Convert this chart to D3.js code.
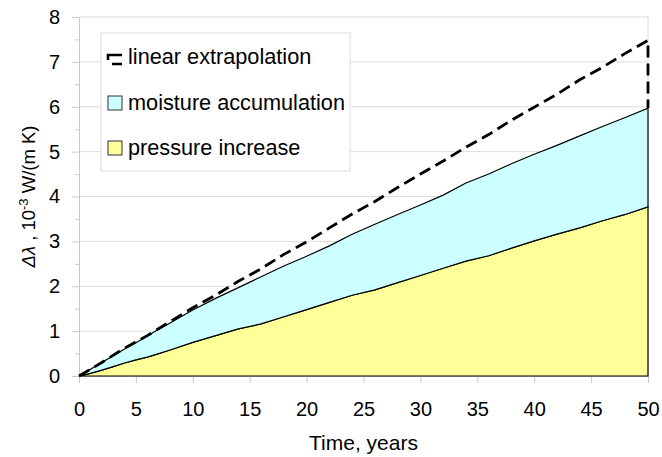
<html>
<script src='https://d3js.org/d3.v7.min.js'></script>
<style>
  body {margin: 0; background: #fff;}
  text {font-family: "Liberation Sans", Arial, sans-serif; fill: #000;}
</style>
<body>
<svg class="chart" width=662 height=457></svg>
<script>
// years
var years = [0,1,2,3,4,5,6,7,8,10,12,14,16,18,20,22,24,26,28,30,32,34,36,38,40,42,44,46,48,50];
// pressure increase (bottom band)
var pressure = [0,0.06,0.13,0.21,0.29,0.36,0.42,0.50,0.58,0.75,0.90,1.05,1.16,1.32,1.48,1.64,1.80,1.92,2.08,2.24,2.40,2.56,2.68,2.85,3.01,3.16,3.30,3.46,3.60,3.77];
// pressure + moisture accumulation (top of cyan band)
var total = [0,0.15,0.30,0.45,0.60,0.74,0.89,1.04,1.18,1.47,1.73,1.97,2.21,2.45,2.67,2.90,3.16,3.38,3.60,3.81,4.03,4.30,4.50,4.73,4.94,5.14,5.35,5.56,5.76,5.97];
// linear extrapolation (dashed), drops back to the total at year 50
var extrapYears = [0,2,4,6,8,10,12,14,16,18,20,22,24,26,28,30,32,34,36,38,40,42,44,46,48,50,50];
var extrap = [0,0.30,0.62,0.90,1.21,1.52,1.80,2.11,2.39,2.71,2.99,3.30,3.61,3.89,4.20,4.50,4.79,5.10,5.38,5.70,5.99,6.28,6.60,6.88,7.19,7.48,5.97];

var xTicks = [0,5,10,15,20,25,30,35,40,45,50];
var yTicks = [0,1,2,3,4,5,6,7,8];
var legendLabels = ["linear extrapolation", "moisture accumulation", "pressure increase"];

var margin = {top: 17, right: 14, bottom: 81, left: 79},
    width = 662 - margin.left - margin.right,
    height = 457 - margin.top - margin.bottom;

var svg = d3.select(".chart");
var g = svg.append("g").attr("transform", "translate(" + margin.left + "," + margin.top + ")");

var x = d3.scaleLinear().domain([0,50]).range([0,width]);
var y = d3.scaleLinear().domain([0,8]).range([height,0]);

// horizontal gridlines
g.append("g").selectAll("line").data(yTicks.slice(1)).enter()
  .append("line")
    .attr("x1", 0).attr("x2", width)
    .attr("y1", function(d){ return y(d); }).attr("y2", function(d){ return y(d); })
    .attr("stroke", "#dcdcdc").attr("stroke-width", 1);

// right border
g.append("line")
  .attr("x1", width).attr("x2", width).attr("y1", 0).attr("y2", height)
  .attr("stroke", "#dcdcdc");

// minor y ticks
g.append("g")
  .call(d3.axisLeft(y).tickValues(d3.range(0.5, 8, 1)).tickSize(4).tickFormat(""))
  .call(function(a){ a.select(".domain").remove(); a.selectAll("line").attr("stroke", "#c8c8c8"); });

// y axis
g.append("g")
  .call(d3.axisLeft(y).tickValues(yTicks).tickSize(7).tickPadding(12).tickSizeOuter(0).tickFormat(d3.format("d")))
  .call(function(a){
    a.select(".domain").attr("stroke", "#c8c8c8");
    a.selectAll("line").attr("stroke", "#c8c8c8");
    a.selectAll("text").attr("font-size", 20).attr("font-family", "Liberation Sans, Arial, sans-serif");
  });

// x axis
g.append("g")
  .attr("transform", "translate(0," + height + ")")
  .call(d3.axisBottom(x).tickValues(xTicks).tickSize(7).tickPadding(19).tickSizeOuter(0).tickFormat(d3.format("d")))
  .call(function(a){
    a.select(".domain").attr("stroke", "#c8c8c8");
    a.selectAll("line").attr("stroke", "#c8c8c8");
    a.selectAll("text").attr("font-size", 20).attr("font-family", "Liberation Sans, Arial, sans-serif");
  });

var rows = years.map(function(t, i){ return {t: t, p: pressure[i], s: total[i]}; });

// pressure increase area
g.append("path")
  .datum(rows)
  .attr("fill", "#ffff99")
  .attr("stroke", "#000")
  .attr("stroke-width", 1.2)
  .attr("d", d3.area()
    .x(function(r){ return x(r.t); })
    .y0(y(0))
    .y1(function(r){ return y(r.p); }));

// moisture accumulation area
g.append("path")
  .datum(rows)
  .attr("fill", "#ccffff")
  .attr("stroke", "#000")
  .attr("stroke-width", 1.2)
  .attr("d", d3.area()
    .x(function(r){ return x(r.t); })
    .y0(function(r){ return y(r.p); })
    .y1(function(r){ return y(r.s); }));

// linear extrapolation
var ext = extrapYears.map(function(t, i){ return [t, extrap[i]]; });
g.append("path")
  .datum(ext)
  .attr("fill", "none")
  .attr("stroke", "#000")
  .attr("stroke-width", 2.8)
  .attr("stroke-dasharray", "12,6")
  .attr("d", d3.line()
    .x(function(d){ return x(d[0]); })
    .y(function(d){ return y(d[1]); }));

// legend
var lg = svg.append("g").attr("transform", "translate(101,33)");
lg.append("rect")
  .attr("width", 249).attr("height", 138)
  .attr("fill", "#fff").attr("stroke", "#dcdcdc");

lg.append("path")
  .attr("d", "M21,22 H7 V27 M11,31 H21")
  .attr("fill", "none").attr("stroke", "#000").attr("stroke-width", 2.6);
lg.append("rect").attr("x", 7).attr("y", 63).attr("width", 14).attr("height", 14)
  .attr("fill", "#ccffff").attr("stroke", "#333").attr("stroke-width", 1);
lg.append("rect").attr("x", 7).attr("y", 108).attr("width", 14).attr("height", 14)
  .attr("fill", "#ffff99").attr("stroke", "#333").attr("stroke-width", 1);

lg.selectAll("text.lbl").data(legendLabels).enter()
  .append("text")
    .attr("class", "lbl")
    .attr("x", 27)
    .attr("y", function(d, i){ return 31 + i * 45.5; })
    .attr("font-size", 21.7)
    .text(function(d){ return d; });

// axis titles
svg.append("text")
  .attr("x", margin.left + x(25)).attr("y", 450)
  .attr("text-anchor", "middle").attr("font-size", 21)
  .text("Time, years");

var yt = svg.append("text")
  .attr("transform", "translate(35," + (margin.top + height / 2) + ") rotate(-90)")
  .attr("text-anchor", "middle").attr("font-size", 18.5);
yt.append("tspan").attr("font-style", "italic").text("Δλ");
yt.append("tspan").text(" , 10");
yt.append("tspan").attr("font-size", 13).attr("dy", -7).text("-3");
yt.append("tspan").attr("dy", 7).text(" W/(m K)");
</script>
</body>
</html>
